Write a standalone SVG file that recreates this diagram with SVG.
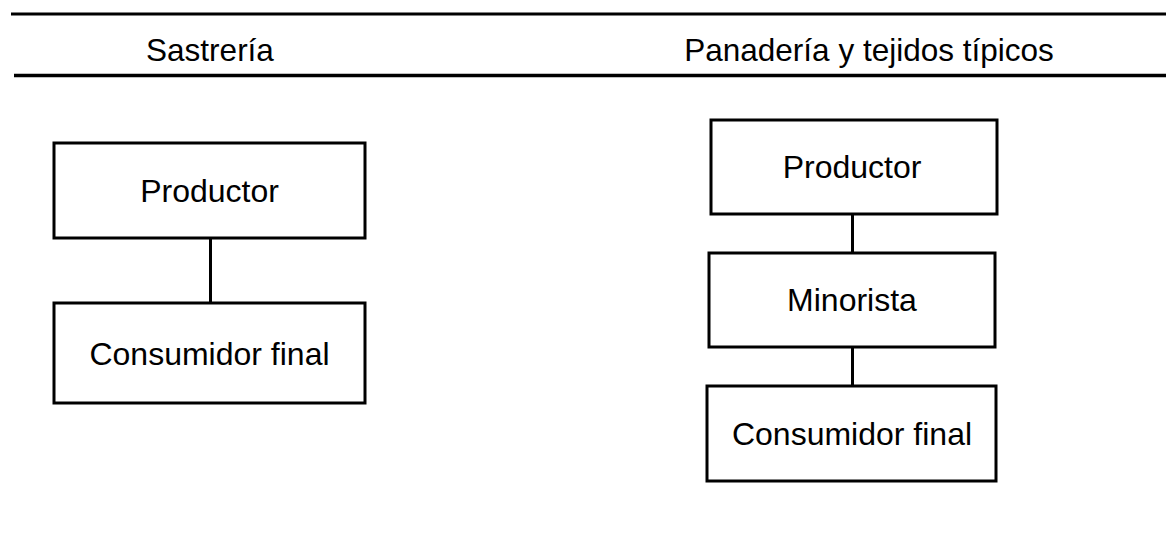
<svg xmlns="http://www.w3.org/2000/svg" width="1166" height="535" viewBox="0 0 1166 535">
<style>
.box{fill:#fff;stroke:#000;stroke-width:3}
.rule{stroke:#000;stroke-width:3}
.conn{stroke:#000;stroke-width:3;fill:none}
text{font-family:"Liberation Sans",Arial,sans-serif;fill:#000;text-anchor:middle}
.title{font-size:31.5px}
.lbl{font-size:32px}
</style>
<rect width="1166" height="535" fill="#fff"/>
<g id="header">
<line class="rule" x1="11" y1="14" x2="1166" y2="14"/>
<line class="rule" x1="14" y1="75.5" x2="1166" y2="75.5" style="stroke-width:3.5"/>
<text class="title" x="210" y="61">Sastrería</text>
<text class="title" x="869" y="61">Panadería y tejidos típicos</text>
</g>
<g id="connectors">
<line class="conn" x1="210.5" y1="238" x2="210.5" y2="303"/>
<line class="conn" x1="852.5" y1="214" x2="852.5" y2="253"/>
<line class="conn" x1="852.5" y1="347" x2="852.5" y2="386"/>
</g>
<g id="l-productor">
<rect class="box" x="54" y="143" width="311" height="95"/>
<text class="lbl" x="209.5" y="202">Productor</text>
</g>
<g id="l-consumidor">
<rect class="box" x="54" y="303" width="311" height="100"/>
<text class="lbl" x="209.5" y="365">Consumidor final</text>
</g>
<g id="r-productor">
<rect class="box" x="711" y="120" width="286" height="94"/>
<text class="lbl" x="852" y="178">Productor</text>
</g>
<g id="r-minorista">
<rect class="box" x="709" y="253" width="286" height="94"/>
<text class="lbl" x="852" y="311">Minorista</text>
</g>
<g id="r-consumidor">
<rect class="box" x="707" y="386" width="289" height="95"/>
<text class="lbl" x="852" y="445">Consumidor final</text>
</g>
</svg>
